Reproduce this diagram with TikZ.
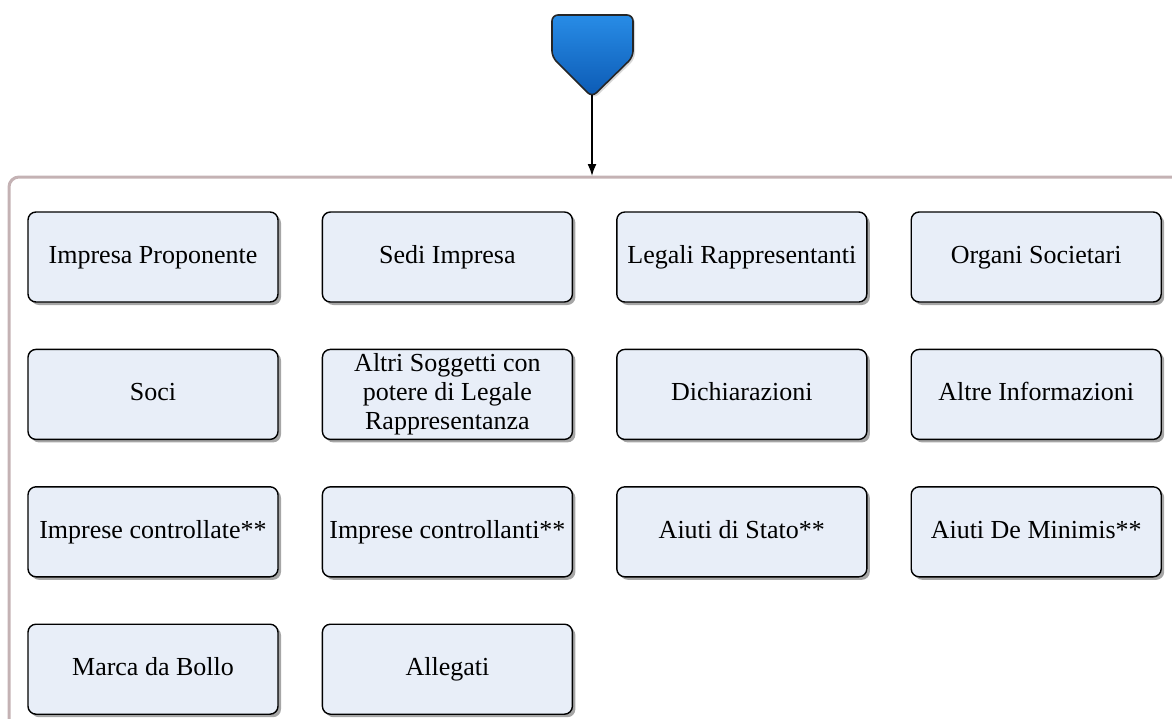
\documentclass[tikz,border=0pt]{standalone}
\usepackage{fontspec}
\setmainfont{Liberation Serif}
\usetikzlibrary{positioning, arrows, arrows.meta, shadows}
\definecolor{boxfill}{RGB}{232,238,248}
\definecolor{framecol}{RGB}{196,178,180}
\definecolor{startblue}{RGB}{40,140,230}
\definecolor{startdark}{RGB}{12,90,180}

\begin{document}
\begin{tikzpicture}[x=1pt, y=-1pt, node distance=46pt and 43pt, thick, -latex,
        card/.style={rectangle, rounded corners=8pt, draw, line width=1.4pt, fill=boxfill,
            minimum width=250pt, minimum height=90pt, align=center, inner sep=2pt,
            font=\fontsize{26}{29}\selectfont,
            drop shadow={shadow xshift=3pt, shadow yshift=-3pt, fill=black!50, opacity=0.7}},
        box/.style={card, text height=18pt, text depth=5pt}]
        \useasboundingbox (0,0) rectangle (1172,718);
        \draw[-, framecol, line width=3pt, rounded corners=10pt] (9,177) rectangle (1210,780);
        
        \draw[-, draw=black!85, line width=1.6pt, rounded corners=6pt, top color=startblue, bottom color=startdark,
            drop shadow={shadow xshift=2pt, shadow yshift=-2pt, fill=black!30, opacity=0.5}]
            (552,15) -- (633,15) -- (633,57) -- (592,97) -- (552,57) -- cycle;
        \coordinate (start) at (592,95);
        \coordinate (entry) at (592,176);
        \path (start) edge[line width=1.6pt, -{Latex[length=12pt, width=9pt]}] (entry);
        
        \node[box] (proponente) at (153,257) {Impresa Proponente};
        \node[box] (sedi) [right=of proponente] {Sedi Impresa};
        \node[box] (legali) [right=of sedi] {Legali Rappresentanti};
        \node[box] (organi) [right=of legali] {Organi Societari};
        
        \node[box] (soci) [below=of proponente] {Soci};
        \node[card] (altri) [below=of sedi] {Altri Soggetti con\\potere di Legale\\Rappresentanza};
        \node[box] (dichiarazioni) [below=of legali] {Dichiarazioni};
        \node[box] (info) [below=of organi] {Altre Informazioni};
        
        \node[box] (controllate) [below=of soci] {Imprese controllate**};
        \node[box] (controllanti) [below=of altri] {Imprese controllanti**};
        \node[box] (stato) [below=of dichiarazioni] {Aiuti di Stato**};
        \node[box] (minimis) [below=of info] {Aiuti De Minimis**};
        
        \node[box] (bollo) [below=of controllate] {Marca da Bollo};
        \node[box] (allegati) [below=of controllanti] {Allegati};
    \end{tikzpicture}
\end{document}
